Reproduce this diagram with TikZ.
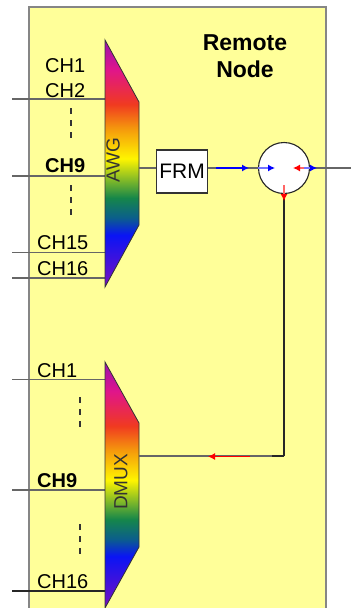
\documentclass[tikz,border=0pt]{standalone}
\usepackage{fontspec}
\setmainfont{Liberation Sans}
\usetikzlibrary{arrows.meta}
\definecolor{panel}{HTML}{FFFF99}
\definecolor{wire}{HTML}{666666}
\definecolor{rv}{HTML}{7A10C0}
\definecolor{rm}{HTML}{E0158A}
\definecolor{rr}{HTML}{F03A20}
\definecolor{ro}{HTML}{F59A0C}
\definecolor{ry}{HTML}{FFF500}
\definecolor{rg}{HTML}{15864A}
\definecolor{rt}{HTML}{0B5E8C}
\definecolor{rb}{HTML}{0A14F5}
\pgfdeclareverticalshading{rainbowx}{100bp}{color(0bp)=(rv); color(25bp)=(rv); color(35.5bp)=(rb); color(39bp)=(rt); color(43bp)=(rg); color(51bp)=(ry); color(57bp)=(ro); color(62bp)=(rr); color(69bp)=(rm); color(75bp)=(rv!70!rm); color(100bp)=(rv!70!rm)}
\tikzset{
  panelbox/.style={draw=gray!95,line width=1.8pt,fill=panel},
  wireline/.style={draw=wire,line width=1.2pt},
  darkline/.style={draw=black!85,line width=1.2pt},
  prism/.style={draw=black!80,line width=.8pt,shade,shading=rainbowx},
  chlabel/.style={anchor=base west,inner sep=0pt,font=\fontsize{20}{22}\selectfont},
  chbold/.style={chlabel,font=\fontsize{20}{22}\selectfont\bfseries},
  headlabel/.style={anchor=base,inner sep=0pt,font=\fontsize{23}{25}\selectfont\bfseries},
  sidelabel/.style={rotate=90,inner sep=0pt,font=\fontsize{19}{21}\selectfont,text=black!80},
  framer/.style={draw=black!80,line width=1.1pt,fill=white,minimum width=51pt,minimum height=43pt,inner sep=0pt,font=\fontsize{21}{23}\selectfont},
  coupler/.style={circle,draw=black!85,line width=1.1pt,fill=white,minimum size=51pt,inner sep=0pt},
  dashv/.style={draw=black!80,line width=1.1pt,dash pattern=on 6pt off 6pt},
  bluearrow/.style={draw=blue,line width=1.2pt,-{Latex[length=7pt,width=7pt]}},
  fadeblue/.style={draw=blue!55,line width=1.2pt,-{Latex[length=7pt,width=7pt,color=blue]}},
  redarrow/.style={draw=red,line width=1.2pt,-{Latex[length=7pt,width=7pt]}},
  fadered/.style={draw=red!60,line width=1.2pt,-{Latex[length=7pt,width=7pt,color=red]}}
}
\begin{document}
\begin{tikzpicture}[x=1pt,y=-1pt]
\useasboundingbox (0,0) rectangle (351,608);
\clip (0,0) rectangle (351,608);
\fill[white] (0,0) rectangle (351,608);
\path[panelbox] (29,7) rectangle (326,615);
% free ends
\foreach \n/\y in {a/99,b/176,c/252.5,d/278,e/379.5,f/490,g/591}{
  \coordinate (in\n) at (12,\y);
  \coordinate (pr\n) at (105,\y);
}
\coordinate (ext) at (351,168);
\coordinate (awgout) at (139,168);
\coordinate (dmuxin) at (139,456);
\coordinate (corner) at (284,456);
% wires
\foreach \n in {a,b,c,d,e,f}{\draw[wireline] (in\n) -- (pr\n);}
\draw[darkline] (ing) -- (prg);
% prisms
\path[prism] (105,40) -- (139,102) -- (139,225) -- (105,287) -- cycle;
\path[prism] (105,362) -- (139,423) -- (139,547) -- (105,608) -- cycle;
\node[sidelabel] (awg) at (113,160) {AWG};
\node[sidelabel] (dmux) at (121,482) {DMUX};
% frm and coupler
\node[framer] (frm) at (182,171.5) {FRM};
\node[coupler] (cpl) at (284,168) {};
\draw[wireline] (awgout) -- (frm.west |- awgout);
\draw[wireline] (frm.east |- ext) -- (cpl.west);
\draw[wireline] (cpl.east) -- (ext);
\draw[darkline] (cpl.south) -- (corner);
\draw[wireline] (corner) -- (dmuxin);
\draw[darkline] (corner) -- +(-12,0);
% arrows
\coordinate (b1) at (216,168); \coordinate (b2) at (249,168);
\coordinate (b3) at (258,168); \coordinate (b4) at (275,168);
\coordinate (b5) at (298,168); \coordinate (b6) at (317,168);
\coordinate (r1) at (304,168); \coordinate (r2) at (293,168);
\coordinate (r3) at (284,185); \coordinate (r4) at (284,201);
\coordinate (r5) at (250,456.5); \coordinate (r6) at (208,456.5);
\draw[bluearrow] (b1) -- (b2);
\draw[fadeblue] (b3) -- (b4);
\draw[fadeblue] (b5) -- (b6);
\draw[fadered] (r1) -- (r2);
\draw[fadered] (r3) -- (r4);
\draw[redarrow] (r5) -- (r6);
% dashes
\coordinate (d1a) at (71,108); \coordinate (d1b) at (71,143);
\coordinate (d2a) at (71,185); \coordinate (d2b) at (71,219);
\coordinate (d3a) at (80,397); \coordinate (d3b) at (80,431);
\coordinate (d4a) at (80,524); \coordinate (d4b) at (80,558);
\draw[dashv] (d1a) -- (d1b);
\draw[dashv] (d2a) -- (d2b);
\draw[dashv] (d3a) -- (d3b);
\draw[dashv] (d4a) -- (d4b);
% labels
\node[chlabel] (l1) at (45,72) {CH1};
\node[chlabel] (l2) at (45,97) {CH2};
\node[chbold] (l9) at (45,172.5) {CH9};
\node[chlabel] (l15) at (37,249) {CH15};
\node[chlabel] (l16) at (37,275) {CH16};
\node[chlabel] (m1) at (37,377) {CH1};
\node[chbold] (m9) at (37,487) {CH9};
\node[chlabel] (m16) at (37,588) {CH16};
\node[headlabel] (h1) at (245,50) {Remote};
\node[headlabel] (h2) at (245,77) {Node};
\end{tikzpicture}
\end{document}
